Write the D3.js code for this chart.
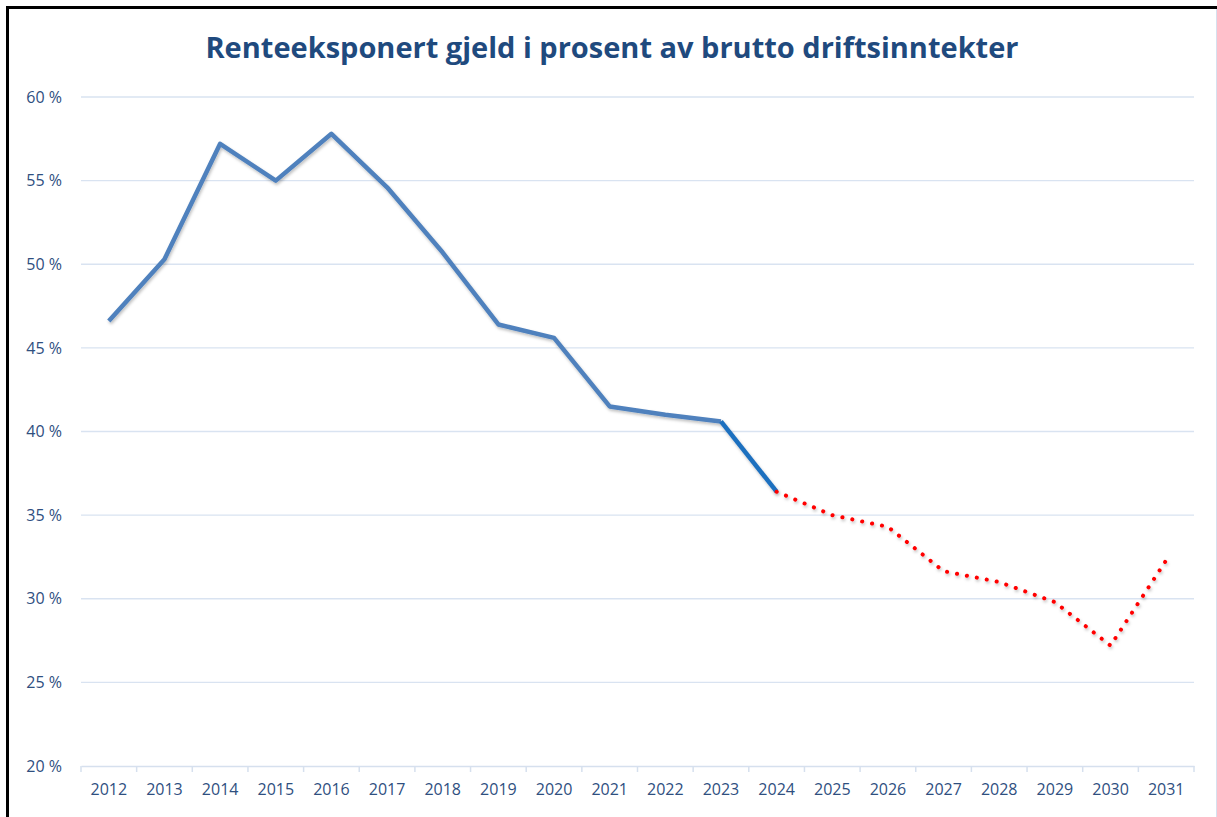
<!DOCTYPE html>
<html>
<head>
<meta charset="utf-8">
<script src="https://cdn.jsdelivr.net/npm/d3@7"></script>
<style>
  body { margin: 0; background: #fff; }
  svg { display: block; }
</style>
</head>
<body>
<script>
// Data
const years = ["2012","2013","2014","2015","2016","2017","2018","2019","2020","2021",
               "2022","2023","2024","2025","2026","2027","2028","2029","2030","2031"];
const actual = [46.6, 50.3, 57.2, 55.0, 57.8, 54.6, 50.7, 46.4, 45.6, 41.5, 41.0, 40.6, 36.4];
const forecast = [36.4, 35.0, 34.3, 31.65, 31.0, 29.8, 27.2, 32.3];
const yTicks = [20, 25, 30, 35, 40, 45, 50, 55, 60];

const width = 1217;
const height = 817;
const margin = {top: 97, right: 23, bottom: 51, left: 81};

const svg = d3.select("body")
    .append("svg")
    .attr("width", width)
    .attr("height", height);

// frame
svg.append("rect")
    .attr("x", 1216).attr("y", 8).attr("width", 1).attr("height", height)
    .attr("fill", "#d6e0ee");
svg.append("path")
    .attr("d", `M7.5,${height} V7.5 H${width}`)
    .attr("fill", "none")
    .attr("stroke", "#000")
    .attr("stroke-width", 3);

const defs = svg.append("defs");
defs.append("filter")
    .attr("id", "shadow")
    .attr("x", "-10%").attr("y", "-10%").attr("width", "120%").attr("height", "120%")
  .append("feDropShadow")
    .attr("dx", 1).attr("dy", 2).attr("stdDeviation", 1.5)
    .attr("flood-color", "#000").attr("flood-opacity", 0.25);

const x = d3.scaleBand()
    .domain(years)
    .range([margin.left, width - margin.right]);

const y = d3.scaleLinear()
    .domain([20, 60])
    .range([height - margin.bottom, margin.top]);

const labelColor = "#2f4f7f";

// title
svg.append("text")
    .attr("x", 612)
    .attr("y", 58)
    .attr("text-anchor", "middle")
    .attr("font-family", "Open Sans, sans-serif")
    .attr("font-weight", "bold")
    .attr("font-size", 29)
    .attr("fill", "#1f4a7e")
    .text("Renteeksponert gjeld i prosent av brutto driftsinntekter");

// gridlines
svg.append("g")
    .selectAll("line")
    .data(yTicks.slice(1))
    .enter()
    .append("line")
    .attr("x1", margin.left)
    .attr("x2", width - margin.right)
    .attr("y1", d => y(d))
    .attr("y2", d => y(d))
    .attr("stroke", "#d9e3f1")
    .attr("stroke-width", 1.3);

// y axis labels
const yAxis = svg.append("g")
    .attr("transform", `translate(${margin.left},0)`)
    .call(d3.axisLeft(y).tickValues(yTicks).tickSize(0).tickPadding(19)
        .tickFormat(d => d + " %"));
yAxis.select(".domain").remove();
yAxis.selectAll("text")
    .attr("font-family", "Open Sans, sans-serif")
    .attr("font-size", 16)
    .attr("fill", labelColor);

// x axis
const xAxis = svg.append("g")
    .attr("transform", `translate(0,${y(20)})`)
    .call(d3.axisBottom(x).tickSize(0).tickPadding(18));
xAxis.select(".domain")
    .attr("stroke", "#d6e0ee")
    .attr("stroke-width", 1.5);
xAxis.selectAll("text")
    .attr("font-family", "Open Sans, sans-serif")
    .attr("font-size", 16)
    .attr("fill", labelColor);
// category boundary ticks
xAxis.append("g")
    .selectAll("line")
    .data(years.concat(["end"]))
    .enter()
    .append("line")
    .attr("x1", (d, i) => margin.left + i * x.step())
    .attr("x2", (d, i) => margin.left + i * x.step())
    .attr("y1", 0)
    .attr("y2", 6)
    .attr("stroke", "#d6e0ee")
    .attr("stroke-width", 1.5);

const cx = d => x(d) + x.bandwidth() / 2;

const line = d3.line()
    .x(d => cx(d.year))
    .y(d => y(d.value));

const actualPts = actual.map((v, i) => ({year: years[i], value: v}));
const forecastPts = forecast.map((v, i) => ({year: years[i + 12], value: v}));

// actual series
svg.append("path")
    .datum(actualPts.slice(0, 12))
    .attr("d", line)
    .attr("fill", "none")
    .attr("stroke", "#4f81bd")
    .attr("stroke-width", 4.5)
    .attr("stroke-linejoin", "round")
    .attr("filter", "url(#shadow)");

svg.append("path")
    .datum(actualPts.slice(11))
    .attr("d", line)
    .attr("fill", "none")
    .attr("stroke", "#1f6fbf")
    .attr("stroke-width", 4.5)
    .attr("filter", "url(#shadow)");

// forecast series
svg.append("path")
    .datum(forecastPts)
    .attr("d", line)
    .attr("fill", "none")
    .attr("stroke", "#ff0000")
    .attr("stroke-width", 4)
    .attr("stroke-linecap", "round")
    .attr("stroke-dasharray", "0.1 10")
    .attr("filter", "url(#shadow)");
</script>
</body>
</html>
